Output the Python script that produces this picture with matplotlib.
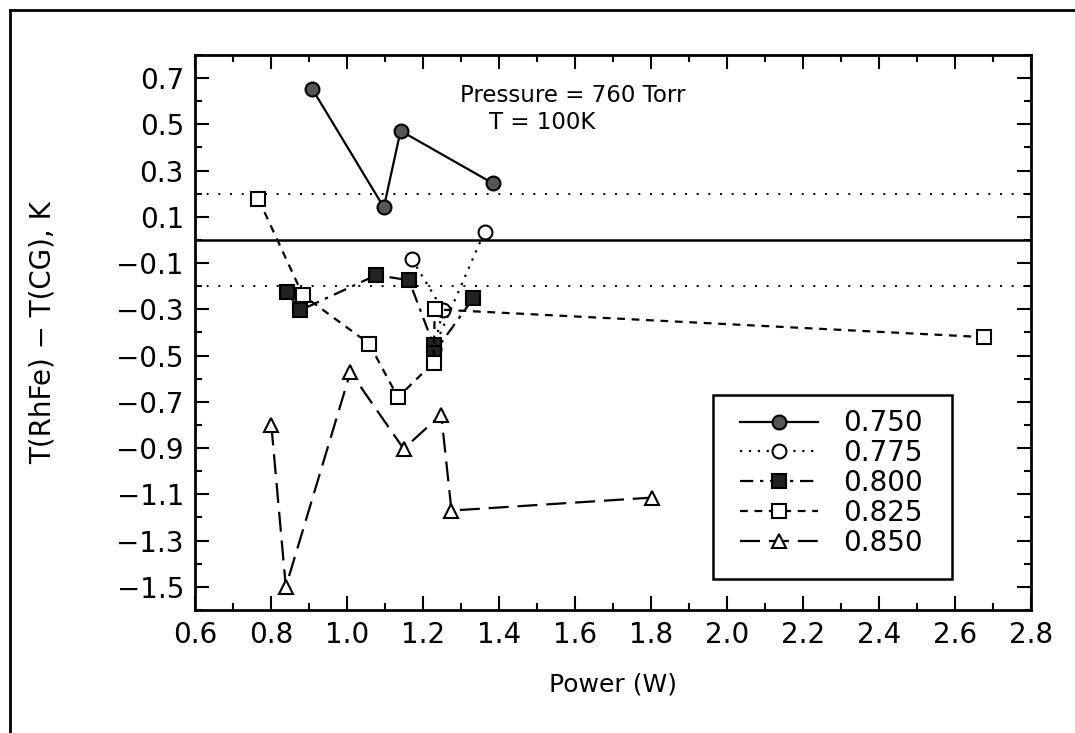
import matplotlib
matplotlib.use("Agg")
import matplotlib.pyplot as plt
from matplotlib.ticker import MultipleLocator, FixedLocator, FixedFormatter
from matplotlib.lines import Line2D
from matplotlib.patches import Rectangle

plt.rcParams['font.family'] = ['DejaVu Sans']

# ---- data ----
x_750 = [0.909, 1.097, 1.141, 1.384]
y_750 = [0.652, 0.141, 0.472, 0.245]

x_775 = [1.171, 1.253, 1.228, 1.362]
y_775 = [-0.083, -0.304, -0.470, 0.035]

x_800 = [0.841, 0.877, 1.077, 1.163, 1.228, 1.228, 1.332]
y_800 = [-0.225, -0.304, -0.152, -0.174, -0.455, -0.490, -0.253]

x_825 = [0.767, 0.884, 1.058, 1.134, 1.228, 1.231, 2.677]
y_825 = [0.177, -0.239, -0.448, -0.680, -0.530, -0.300, -0.420]

x_850 = [0.801, 0.839, 1.009, 1.149, 1.248, 1.275, 1.802]
y_850 = [-0.802, -1.500, -0.571, -0.903, -0.755, -1.170, -1.114]

labels = ["0.750", "0.775", "0.800", "0.825", "0.850"]
ref_solid = 0.0
ref_dotted = [0.2, -0.2]

x_ticks = [0.6, 0.8, 1.0, 1.2, 1.4, 1.6, 1.8, 2.0, 2.2, 2.4, 2.6, 2.8]
y_ticks = [0.7, 0.5, 0.3, 0.1, -0.1, -0.3, -0.5, -0.7, -0.9, -1.1, -1.3, -1.5]

fig = plt.figure(figsize=(10.75, 7.33), dpi=100)
ax = fig.add_axes([0.1814, 0.1678, 0.9590 - 0.1814, 0.925 - 0.1678])

lw = 1.6
ax.axhline(ref_solid, color='black', lw=1.8, zorder=1)
for r in ref_dotted:
    ax.axhline(r, color='black', lw=1.4, ls=(0, (1, 5)), zorder=1)

ax.plot(x_750, y_750, color='black', lw=lw, ls='-', marker='o', ms=10,
        mfc='#555555', mec='black', mew=1.5, label=labels[0], zorder=3)
ax.plot(x_775, y_775, color='black', lw=lw, ls=(0, (1, 3)), marker='o', ms=10,
        mfc='white', mec='black', mew=1.5, label=labels[1], zorder=3)
ax.plot(x_800, y_800, color='black', lw=lw, ls=(0, (6, 3, 1.5, 3)), marker='s', ms=10,
        mfc='#222222', mec='black', mew=1.5, label=labels[2], zorder=3)
ax.plot(x_825, y_825, color='black', lw=lw, ls=(0, (3.5, 3)), marker='s', ms=10,
        mfc='white', mec='black', mew=1.5, label=labels[3], zorder=3)
ax.plot(x_850, y_850, color='black', lw=lw, ls=(0, (9, 4)), marker='^', ms=10,
        mfc='white', mec='black', mew=1.5, label=labels[4], zorder=3)

ax.set_xlim(0.6, 2.8)
ax.set_ylim(-1.6, 0.8)

ax.xaxis.set_major_locator(FixedLocator(x_ticks))
ax.xaxis.set_major_formatter(FixedFormatter([f"{v:.1f}" for v in x_ticks]))
ax.xaxis.set_minor_locator(MultipleLocator(0.1))
ax.yaxis.set_major_locator(FixedLocator(y_ticks))
ax.yaxis.set_major_formatter(FixedFormatter(
    [f"{v:.1f}".replace('-', '\u2212') for v in y_ticks]))
ax.yaxis.set_minor_locator(MultipleLocator(0.1))

ax.tick_params(which='both', direction='in', top=True, right=True, width=1.5,
               labelsize=20, pad=8)
ax.tick_params(which='major', length=10)
ax.tick_params(which='minor', length=5)
for s in ax.spines.values():
    s.set_linewidth(2.0)

ax.set_xlabel("Power (W)", fontsize=18, labelpad=17)
ax.set_ylabel("T(RhFe) \u2212 T(CG), K", fontsize=20, labelpad=43)

ax.text(0.317, 0.927, "Pressure = 760 Torr", transform=ax.transAxes,
        fontsize=16.5, ha='left', va='center')
ax.text(0.3517, 0.879, "T = 100K", transform=ax.transAxes,
        fontsize=16.5, ha='left', va='center')

# legend box drawn separately, entries placed inside it
ax.add_patch(Rectangle((0.6196, 0.0559), 0.9055 - 0.6196, 0.3874 - 0.0559,
                       transform=ax.transAxes, fill=True, facecolor='white',
                       edgecolor='black', lw=1.8, zorder=4))
leg = ax.legend(loc='center left', bbox_to_anchor=(0.652, 0.2288),
                fontsize=20, frameon=False, handlelength=2.8, handletextpad=0.9,
                labelspacing=0.065, borderpad=0, borderaxespad=0)
leg.set_zorder(5)

# outer frame (top and left edges visible)
fig.add_artist(Line2D([10 / 1075, 1.0], [1 - 10 / 733, 1 - 10 / 733],
                      transform=fig.transFigure, color='black', lw=2))
fig.add_artist(Line2D([10 / 1075, 10 / 1075], [1 - 10 / 733, 0.0],
                      transform=fig.transFigure, color='black', lw=2))

fig.savefig("out.png", dpi=100)
